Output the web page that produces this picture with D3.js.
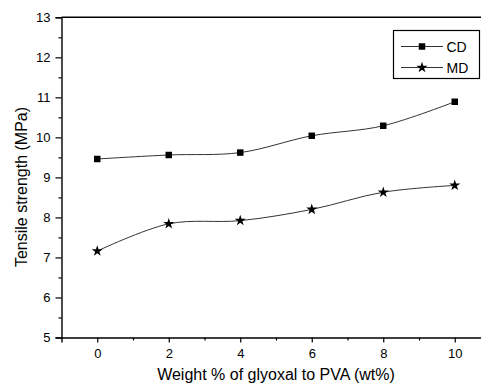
<!DOCTYPE html>
<html>
<head>
<meta charset="utf-8">
<script src="https://cdn.jsdelivr.net/npm/d3@7"></script>
<style>
  html, body { margin: 0; padding: 0; background: #fff; }
  svg { display: block; font-family: "Liberation Sans", Arial, sans-serif; }
</style>
</head>
<body>
<svg id="chart" width="481" height="387"></svg>
<script>
// Tensile strength vs. glyoxal content
const glyoxal = [0, 2, 4, 6, 8, 10];
const cdStrength = [9.46, 9.56, 9.62, 10.04, 10.29, 10.89];
const mdStrength = [7.16, 7.84, 7.92, 8.20, 8.63, 8.80];
const seriesNames = ["CD", "MD"];
const xTicks = [0, 2, 4, 6, 8, 10];
const yTicks = [5, 6, 7, 8, 9, 10, 11, 12, 13];

const svg = d3.select("#chart");
const plotLeft = 61.5, plotRight = 490.5, plotTop = 17.3, plotBottom = 337.5;

const x = d3.scaleLinear().domain([-1, 11]).range([plotLeft, plotRight]);
const y = d3.scaleLinear().domain([5, 13]).range([plotBottom, plotTop]);

// frame top edge
svg.append("line")
  .attr("x1", plotLeft).attr("x2", plotRight)
  .attr("y1", plotTop).attr("y2", plotTop)
  .attr("stroke", "#000").attr("stroke-width", 1.4);

// minor ticks
const xMinor = [1, 3, 5, 7, 9];
const yMinor = d3.range(5.5, 13, 1);

svg.append("g").attr("transform", `translate(0,${plotBottom})`)
  .call(d3.axisBottom(x).tickValues(xTicks).tickSize(5).tickPadding(6).tickFormat(d3.format("d")));
svg.append("g").attr("transform", `translate(0,${plotBottom})`)
  .call(d3.axisBottom(x).tickValues(xMinor).tickSize(3).tickFormat(""))
  .select(".domain").remove();

svg.append("g").attr("transform", `translate(${plotLeft},0)`)
  .call(d3.axisLeft(y).tickValues(yTicks).tickSize(6).tickPadding(5).tickFormat(d3.format("d")));
svg.append("g").attr("transform", `translate(${plotLeft},0)`)
  .call(d3.axisLeft(y).tickValues(yMinor).tickSize(3).tickFormat(""))
  .select(".domain").remove();

svg.selectAll(".domain").attr("stroke", "#000").attr("stroke-width", 1.4);
svg.selectAll(".tick line").attr("stroke", "#000").attr("stroke-width", 1.2);
svg.selectAll(".tick text")
  .attr("font-size", 13).attr("fill", "#000")
  .attr("font-family", "Liberation Sans, Arial, sans-serif");

// axis titles
svg.append("text")
  .attr("x", (plotLeft + plotRight) / 2).attr("y", 380)
  .attr("text-anchor", "middle").attr("font-size", 16).attr("fill", "#000")
  .text("Weight % of glyoxal to PVA (wt%)");
svg.append("text")
  .attr("transform", "translate(26.5,187) rotate(-90)")
  .attr("text-anchor", "middle").attr("font-size", 16).attr("fill", "#000")
  .text("Tensile strength (MPa)");

// smoothed curves through the measured points
const line = d3.line()
  .x((d, i) => x(glyoxal[i]))
  .y(d => y(d))
  .curve(d3.curveCatmullRom.alpha(0.5));

const series = [
  { name: seriesNames[0], values: cdStrength, symbol: d3.symbolSquare, size: 42 },
  { name: seriesNames[1], values: mdStrength, symbol: d3.symbolStar, size: 38 }
];

series.forEach(s => {
  svg.append("path")
    .attr("d", line(s.values))
    .attr("fill", "none").attr("stroke", "#333").attr("stroke-width", 1);
  svg.append("g").selectAll("path")
    .data(s.values)
    .join("path")
    .attr("transform", (d, i) => `translate(${x(glyoxal[i])},${y(d)})`)
    .attr("d", d3.symbol().type(s.symbol).size(s.size))
    .attr("fill", "#000");
});

// legend
const legend = svg.append("g");
legend.append("rect")
  .attr("x", 393.5).attr("y", 30.5).attr("width", 86).attr("height", 48)
  .attr("fill", "#fff").attr("stroke", "#000").attr("stroke-width", 1.2);
series.forEach((s, i) => {
  const ly = 46.5 + i * 21;
  legend.append("line")
    .attr("x1", 401).attr("x2", 443).attr("y1", ly).attr("y2", ly)
    .attr("stroke", "#333").attr("stroke-width", 1);
  legend.append("path")
    .attr("transform", `translate(422,${ly})`)
    .attr("d", d3.symbol().type(s.symbol).size(s.size))
    .attr("fill", "#000");
  legend.append("text")
    .attr("x", 446.5).attr("y", ly + 5)
    .attr("font-size", 14).attr("fill", "#000")
    .text(s.name);
});
</script>
</body>
</html>
